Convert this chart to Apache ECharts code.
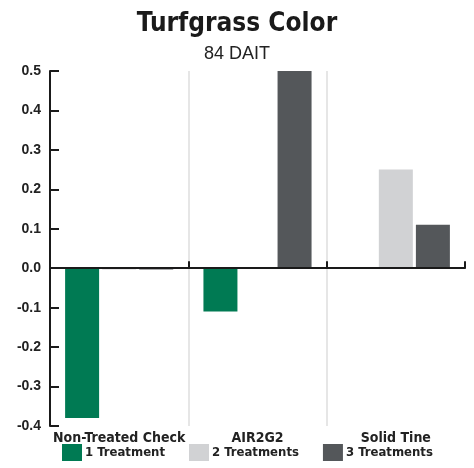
<!DOCTYPE html>
<html>
<head>
<meta charset="utf-8">
<script src="https://cdn.jsdelivr.net/npm/echarts@6/dist/echarts.min.js"></script>
<style>
  html, body { margin: 0; padding: 0; background: #fff; }
  #chart { width: 474px; height: 468px; }
</style>
</head>
<body>
<div id="chart"></div>
<script>
// Turfgrass colour change at 84 days after initial treatment
const categories = ['Non-Treated Check', 'AIR2G2', 'Solid Tine'];
const seriesNames = ['1 Treatment', '2 Treatments', '3 Treatments'];
const oneTreatment = [-0.38, -0.11, 0.002];
const twoTreatments = [-0.003, 0.003, 0.25];
const threeTreatments = [-0.003, 0.5, 0.11];
const yTicks = [-0.4, -0.3, -0.2, -0.1, 0.0, 0.1, 0.2, 0.3, 0.4, 0.5];
const colors = ['#007a53', '#d1d2d4', '#54575a'];

const narrow = '"DejaVu Sans Condensed", "Liberation Sans Narrow", "Liberation Sans", sans-serif';

const chart = echarts.init(document.getElementById('chart'));

const values = [oneTreatment, twoTreatments, threeTreatments];

chart.setOption({
  animation: false,
  color: colors,
  title: {
    text: 'Turfgrass Color',
    subtext: '84 DAIT',
    left: 'center',
    top: 6,
    itemGap: 8,
    textStyle: { fontFamily: narrow, fontWeight: 'bold', fontSize: 26, color: '#1a1a1a' },
    subtextStyle: { fontFamily: '"Liberation Sans", Arial, sans-serif', fontSize: 18, color: '#222' }
  },
  legend: {
    bottom: 2,
    left: 57,
    width: 420,
    orient: 'horizontal',
    itemWidth: 20,
    itemHeight: 17,
    itemGap: 24,
    icon: 'rect',
    data: seriesNames,
    textStyle: { fontFamily: narrow, fontWeight: 'bold', fontSize: 13, color: '#222', padding: [0, 0, 0, -2] }
  },
  grid: { left: 50, right: 9, top: 71, bottom: 42 },
  xAxis: [
    {
      type: 'category',
      data: categories,
      position: 'bottom',
      axisLine: { onZero: true, lineStyle: { color: '#1a1a1a', width: 2 } },
      axisTick: { show: true, inside: true, length: 7, interval: 0, lineStyle: { color: '#1a1a1a', width: 2 } },
      axisLabel: { show: false },
      splitLine: { show: false },
      z: 5
    },
    {
      type: 'category',
      data: categories,
      position: 'bottom',
      offset: 0,
      axisLine: { show: false, onZero: false },
      axisTick: { show: false, interval: 0 },
      axisLabel: {
        show: true,
        interval: 0,
        margin: 5,
        fontFamily: narrow,
        fontWeight: 'bold',
        fontSize: 14,
        color: '#222'
      },
      splitLine: {
        show: true,
        interval: 0,
        showMinLine: false,
        showMaxLine: false,
        lineStyle: { color: '#e6e6e6', width: 2 }
      }
    }
  ],
  yAxis: {
    type: 'value',
    min: -0.4,
    max: 0.5,
    interval: 0.1,
    axisLine: { show: true, lineStyle: { color: '#1a1a1a', width: 2 } },
    axisTick: { show: true, inside: true, length: 9, lineStyle: { color: '#1a1a1a', width: 2 } },
    splitLine: { show: false },
    axisLabel: {
      margin: 9,
      fontFamily: '"Liberation Sans", Arial, sans-serif',
      fontWeight: 'bold',
      fontSize: 14,
      color: '#222',
      formatter: v => {
        const t = yTicks.find(x => Math.abs(x - v) < 1e-9);
        return (t === undefined ? v : t).toFixed(1);
      }
    }
  },
  series: seriesNames.map((name, i) => ({
    name,
    type: 'bar',
    xAxisIndex: 0,
    data: values[i],
    barWidth: 34,
    barGap: '9%',
    itemStyle: { color: colors[i] }
  }))
});
</script>
</body>
</html>
